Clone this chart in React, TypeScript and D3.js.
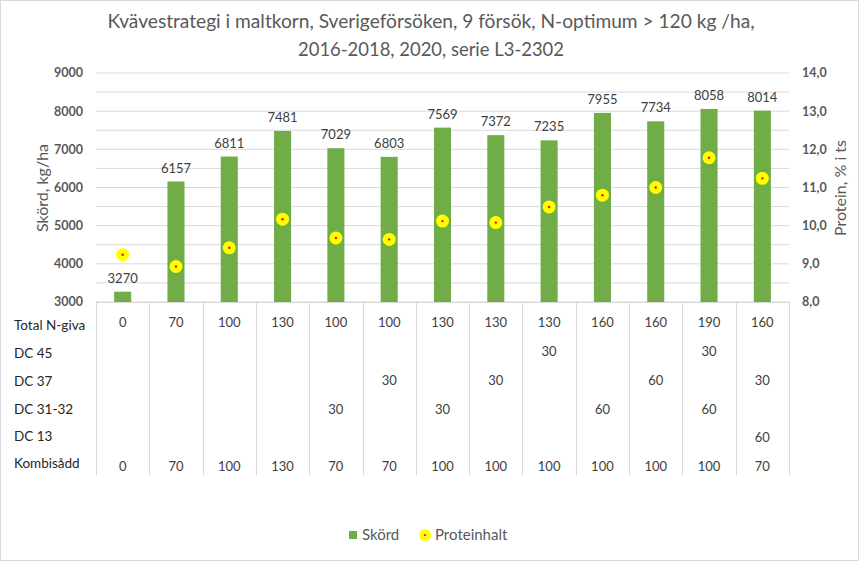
import React from "react";
import * as d3 from "d3";

const treatments = ["A1","A2","A3","A4","A5","A6","A7","A8","A9","A10","A11","A12","A13"];
const skord = [3270, 6157, 6811, 7481, 7029, 6803, 7569, 7372, 7235, 7955, 7734, 8058, 8014];
const protein = [9.24, 8.93, 9.42, 10.17, 9.68, 9.64, 10.12, 10.08, 10.49, 10.8, 11.0, 11.78, 11.24];
const rowLabels = ["Total N-giva", "DC 45", "DC 37", "DC 31-32", "DC 13", "Kombisådd"];
const totalN = ["0","70","100","130","100","100","130","130","130","160","160","190","160"];
const dc45 = ["","","","","","","","","30","","","30",""];
const dc37 = ["","","","","","30","","30","","","60","","30"];
const dc3132 = ["","","","","30","","30","","","60","","60",""];
const dc13 = ["","","","","","","","","","","","","60"];
const kombi = ["0","70","100","130","70","70","100","100","100","100","100","100","70"];
const tableRows = [totalN, dc45, dc37, dc3132, dc13, kombi];
const leftTicks = [3000, 4000, 5000, 6000, 7000, 8000, 9000];
const rightTicks = [8, 9, 10, 11, 12, 13, 14];
const gridValues = d3.range(3000, 9001, 500);

const W = 859, H = 561;
const FONT = "Lato, 'Open Sans', sans-serif";

export default function App() {
  const x = d3.scaleBand<string>().domain(treatments).range([96, 789]).padding(0);
  const yL = d3.scaleLinear().domain([3000, 9000]).range([302, 73]);
  const yR = d3.scaleLinear().domain([8, 14]).range([302, 73]);
  const bw = x.bandwidth() * 0.32;
  const valueY = [322, 351, 380, 409, 437, 466];
  const labelY = [325, 353, 381, 409, 436, 463];
  const tableBottom = 475;
  const fmt = d3.format(".1f");

  return (
    <svg width={W} height={H} style={{ position: "absolute", left: 0, top: 0, background: "#fff" }}>
      <rect x={0.5} y={0.5} width={W - 1} height={H - 1} fill="#fff" stroke="#d9d9d9" />
      <text x={431} y={28} textAnchor="middle" fontFamily={FONT} fontSize={18.5} fill="#595959"
        textLength={647} lengthAdjust="spacingAndGlyphs">
        Kvävestrategi i maltkorn, Sverigeförsöken, 9 försök, N-optimum &gt; 120 kg /ha,
      </text>
      <text x={431} y={56} textAnchor="middle" fontFamily={FONT} fontSize={18.5} fill="#595959"
        textLength={266} lengthAdjust="spacingAndGlyphs">
        2016-2018, 2020, serie L3-2302
      </text>

      {gridValues.map((v) => (
        <line key={v} x1={96} x2={789} y1={yL(v)} y2={yL(v)} stroke="#d9d9d9" strokeWidth={1} />
      ))}

      {leftTicks.map((v) => (
        <text key={v} x={83} y={yL(v)} dy="0.35em" textAnchor="end" fontFamily={FONT}
          fontSize={12.5} fontWeight="bold" fill="#595959">{v}</text>
      ))}
      {rightTicks.map((v) => (
        <text key={v} x={802} y={yR(v)} dy="0.35em" textAnchor="start" fontFamily={FONT}
          fontSize={12.5} fontWeight="bold" fill="#595959">{fmt(v).replace(".", ",")}</text>
      ))}
      <text transform={`translate(48,188) rotate(-90)`} textAnchor="middle" fontFamily={FONT}
        fontSize={16} fill="#595959">Skörd, kg/ha</text>
      <text transform={`translate(846,188) rotate(-90)`} textAnchor="middle" fontFamily={FONT}
        fontSize={16} fill="#595959">Protein, % i ts</text>

      {treatments.map((t, i) => (
        <g key={t}>
          <rect x={x(t)! + x.bandwidth() / 2 - bw / 2} y={yL(skord[i])} width={bw}
            height={yL(3000) - yL(skord[i])} fill="#70ad47" />
          <text x={x(t)! + x.bandwidth() / 2} y={yL(skord[i]) - 9} textAnchor="middle"
            fontFamily={FONT} fontSize={13} fill="#404040">{skord[i]}</text>
        </g>
      ))}

      {treatments.map((t, i) => (
        <g key={"p" + t}>
          <circle cx={x(t)! + x.bandwidth() / 2} cy={yR(protein[i])} r={6.5} fill="#ffff00" />
          <circle cx={x(t)! + x.bandwidth() / 2} cy={yR(protein[i])} r={1.2} fill="#ff0000" />
        </g>
      ))}

      <line x1={96} x2={789} y1={302.5} y2={302.5} stroke="#d9d9d9" />
      {d3.range(treatments.length + 1).map((k) => {
        const xx = Math.round(96 + k * x.bandwidth()) + 0.5;
        return <line key={k} x1={xx} x2={xx} y1={302} y2={tableBottom} stroke="#d9d9d9" />;
      })}

      {rowLabels.map((l, r) => (
        <text key={l} x={14} y={labelY[r]} dy="0.35em" fontFamily={FONT} fontSize={13.5} fill="#262626">{l}</text>
      ))}
      {tableRows.map((row, r) =>
        row.map((v, i) =>
          v ? (
            <text key={r + "-" + i} x={x(treatments[i])! + x.bandwidth() / 2} y={valueY[r]} dy="0.35em"
              textAnchor="middle" fontFamily={FONT} fontSize={13} fill="#404040">{v}</text>
          ) : null
        )
      )}

      <rect x={349} y={531} width={8} height={8} fill="#70ad47" />
      <text x={362} y={535} dy="0.35em" fontFamily={FONT} fontSize={15} fill="#595959">Skörd</text>
      <circle cx={425} cy={535} r={6} fill="#ffff00" />
      <circle cx={425} cy={535} r={1.1} fill="#ff0000" />
      <text x={435} y={535} dy="0.35em" fontFamily={FONT} fontSize={15} fill="#595959">Proteinhalt</text>
    </svg>
  );
}
